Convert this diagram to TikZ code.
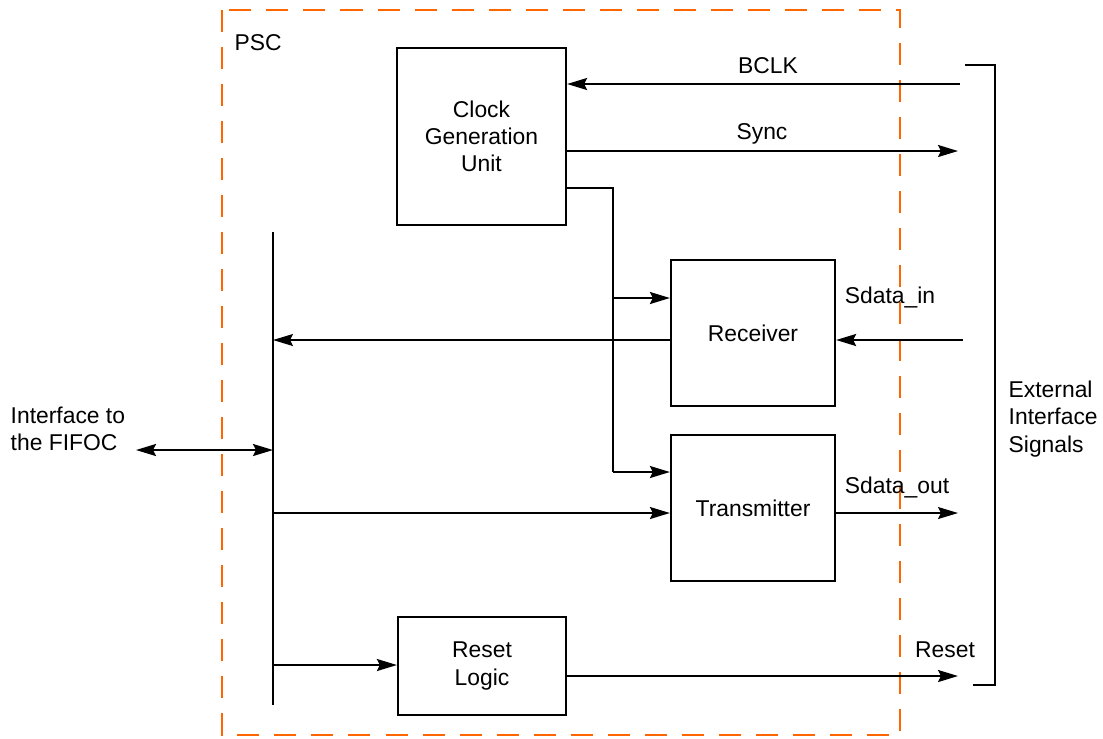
\documentclass[tikz,border=0pt]{standalone}
\usepackage{fontspec}
\setmainfont{Liberation Sans}
\usepackage{tikz}
\usetikzlibrary{arrows.meta, positioning, calc}
\definecolor{pscorange}{RGB}{255,102,0}

\begin{document}
\begin{tikzpicture}[
    x=0.01cm, y=-0.01cm,
    font=\fontsize{6.5}{7.7}\selectfont,
    box/.style={rectangle, draw, line width=0.6pt, align=center, inner sep=0pt},
    arr/.style={-{Stealth[length=0.2cm, width=0.12cm, inset=0.03cm]}, line width=0.6pt},
    lbl/.style={inner sep=0pt, anchor=base}
]
\useasboundingbox (0,0) rectangle (1103,738);
% PSC border
\draw[pscorange, line width=0.6pt, dash pattern=on 0.22cm off 0.15cm] (222,10) rectangle (900,735);
\node[lbl, anchor=base west] (psc) at (234,50) {PSC};

% blocks
\node[box, minimum width=1.69cm, minimum height=1.77cm] (cgu) at (481.5,136.5) {Clock\\Generation\\Unit};
\node[box, minimum width=1.64cm, minimum height=1.46cm] (rx) at (753,333) {Receiver};
\node[box, minimum width=1.64cm, minimum height=1.46cm] (tx) at (753,508) {Transmitter};
\node[box, minimum width=1.68cm, minimum height=0.98cm] (rst) at (482,666) {Reset\\Logic};

% bus and end points
\coordinate (bustop) at (273,232);
\coordinate (busbot) at (273,705);
\draw[line width=0.6pt] (bustop) -- (busbot);
\coordinate (fifoc) at (136,450);
\coordinate (bclkin) at (960,84);
\coordinate (syncout) at (958,151);
\coordinate (clkfork) at (613,188);
\coordinate (sdin) at (963,340);
\coordinate (sdout) at (958,513);
\coordinate (rstout) at (958,676);

% clock unit
\draw[arr] (bclkin) -- (bclkin -| cgu.east);
\draw[arr] (cgu.east |- syncout) -- (syncout);
\draw[line width=0.6pt] (cgu.east |- clkfork) -- (clkfork) -- (clkfork |- 0,472);
\draw[arr] (clkfork |- 0,298) -- (rx.west |- 0,298);
\draw[arr] (clkfork |- 0,472) -- (tx.west |- 0,472);

% data paths
\draw[arr, line width=0.4pt] (rx.west |- sdin) -- (bustop |- sdin);
\draw[arr] (sdin) -- (rx.east |- sdin);
\draw[arr] (bustop |- sdout) -- (tx.west |- sdout);
\draw[arr, line width=0.4pt] (tx.east |- sdout) -- (sdout);
\draw[arr] (bustop |- 0,665) -- (rst.west |- 0,665);
\draw[arr] (rst.east |- rstout) -- (rstout);
\draw[{Stealth[length=0.2cm, width=0.12cm, inset=0.03cm]}-{Stealth[length=0.2cm, width=0.12cm, inset=0.03cm]}, line width=0.6pt] (fifoc) -- (bustop |- fifoc);

% signal labels
\node[lbl] (bclk) at (768,73) {BCLK};
\node[lbl] (sync) at (762,139) {Sync};
\node[lbl] (sdinlbl) at (890,303) {Sdata\_in};
\node[lbl] (sdoutlbl) at (897,493) {Sdata\_out};
\node[lbl] (rstlbl) at (945,657) {Reset};

% external bracket
\draw[line width=0.6pt] (965,65) -- (995,65) -- (995,685) -- (973,685);
\node[align=left, anchor=west, inner sep=0pt] (ext) at (1008,419) {External\\Interface\\Signals};
\node[align=left, anchor=west, inner sep=0pt] (ifc) at (10,429) {Interface to\\the FIFOC};
\end{tikzpicture}
\end{document}
